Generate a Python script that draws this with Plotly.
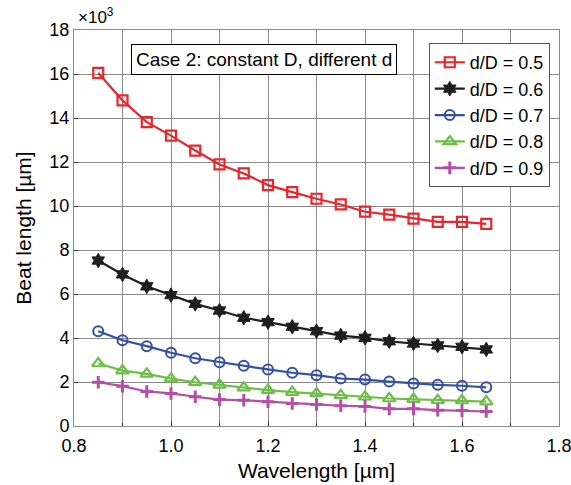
import plotly.graph_objects as go

# Wavelength samples [µm]
wavelength = [0.85, 0.90, 0.95, 1.00, 1.05, 1.10, 1.15, 1.20, 1.25,
              1.30, 1.35, 1.40, 1.45, 1.50, 1.55, 1.60, 1.65]

# Beat length [µm], in units of 10^3
beat_05 = [16.05, 14.80, 13.81, 13.20, 12.52, 11.89, 11.48, 10.95, 10.63,
           10.33, 10.07, 9.74, 9.61, 9.43, 9.28, 9.28, 9.19]
beat_06 = [7.52, 6.89, 6.35, 5.95, 5.55, 5.25, 4.92, 4.72, 4.51,
           4.31, 4.11, 4.01, 3.85, 3.75, 3.66, 3.60, 3.48]
beat_07 = [4.31, 3.90, 3.63, 3.33, 3.08, 2.90, 2.74, 2.57, 2.42,
           2.31, 2.16, 2.11, 2.02, 1.93, 1.87, 1.83, 1.76]
beat_08 = [2.84, 2.52, 2.37, 2.15, 1.99, 1.87, 1.74, 1.63, 1.54,
           1.48, 1.39, 1.33, 1.25, 1.22, 1.17, 1.16, 1.11]
beat_09 = [1.99, 1.81, 1.57, 1.48, 1.33, 1.20, 1.17, 1.10, 1.02,
           0.98, 0.92, 0.89, 0.78, 0.78, 0.72, 0.70, 0.66]

series_names = ["d/D = 0.5", "d/D = 0.6", "d/D = 0.7", "d/D = 0.8", "d/D = 0.9"]
series_values = [beat_05, beat_06, beat_07, beat_08, beat_09]

styles = [
    dict(color="#e8262d", symbol="square-open", size=10, mlw=2.2),
    dict(color="#1e1e1e", symbol="hexagram", size=11, mlw=1.0),
    dict(color="#3450a6", symbol="circle-open", size=10, mlw=2.0),
    dict(color="#6cbf46", symbol="triangle-up-open", size=11, mlw=2.2),
    dict(color="#b44ea6", symbol="cross-thin-open", size=9, mlw=3.0),
]

fig = go.Figure()
for name, vals, st in zip(series_names, series_values, styles):
    fig.add_trace(go.Scatter(
        x=wavelength, y=vals, name=name, mode="lines+markers",
        line=dict(color=st["color"], width=2.2),
        marker=dict(symbol=st["symbol"], size=st["size"], color=st["color"],
                    line=dict(color=st["color"], width=st["mlw"])),
    ))

font_family = "Liberation Sans, Arial, sans-serif"

fig.update_layout(
    width=571, height=485,
    margin=dict(l=74, r=12, t=30, b=59),
    paper_bgcolor="white", plot_bgcolor="white",
    font=dict(family=font_family, size=18, color="black"),
    showlegend=True,
    legend=dict(
        x=0.981, y=0.967, xanchor="right", yanchor="top",
        bgcolor="white", bordercolor="#555555", borderwidth=1,
        font=dict(size=18, family=font_family),
        itemwidth=30, tracegroupgap=0,
    ),
    xaxis=dict(
        range=[0.8, 1.8], dtick=0.2, tick0=0.8, tickformat=".1f",
        automargin=False, ticklabeloverflow="allow",
        showgrid=True, gridcolor="#8a8a8a", gridwidth=1,
        minor=dict(dtick=0.1, showgrid=True, gridcolor="#8a8a8a", gridwidth=1,
                   ticks="inside", ticklen=3, tickcolor="#333333"),
        ticks="inside", ticklen=4, tickcolor="#333333",
        ticklabelstandoff=3,
        showline=True, linecolor="#8a8a8a", linewidth=1, mirror=True,
        zeroline=False,
        title=dict(text="Wavelength [µm]", font=dict(size=21), standoff=8),
        tickfont=dict(size=18),
    ),
    yaxis=dict(
        range=[0, 18], dtick=2, tick0=0,
        automargin=False, ticklabeloverflow="allow",
        showgrid=True, gridcolor="#8a8a8a", gridwidth=1,
        ticks="inside", ticklen=4, tickcolor="#333333",
        showline=True, linecolor="#8a8a8a", linewidth=1, mirror=True,
        zeroline=False,
        title=dict(text="Beat length [µm]", font=dict(size=21), standoff=12),
        tickfont=dict(size=18),
    ),
)

# Exponent label for the y axis
fig.add_annotation(
    x=0, y=1, xref="paper", yref="paper", xanchor="left", yanchor="bottom",
    xshift=2, yshift=1,
    text="×10<sup>3</sup>", showarrow=False, font=dict(size=17),
)

# Case description box
fig.add_annotation(
    x=0.1175, y=0.965, xref="paper", yref="paper", xanchor="left", yanchor="top",
    text="Case 2: constant D, different d", showarrow=False,
    font=dict(size=19), bgcolor="white", bordercolor="black", borderwidth=1,
    borderpad=4,
)

fig.write_html("out.html")
